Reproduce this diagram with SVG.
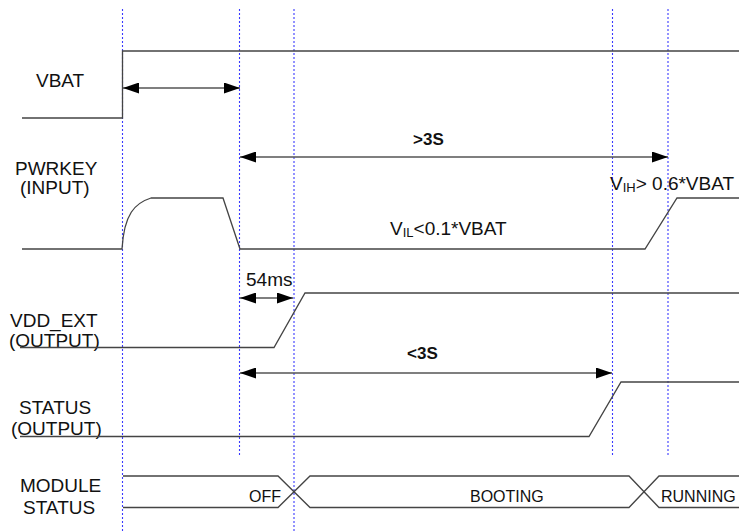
<svg xmlns="http://www.w3.org/2000/svg" width="739" height="532" viewBox="0 0 739 532">
<style>
.lbl{font-family:"Liberation Sans",Arial,sans-serif;font-size:19px;fill:#111}
.st{font-family:"Liberation Sans",Arial,sans-serif;font-size:16px;fill:#111}
.bd{font-family:"Liberation Sans",Arial,sans-serif;font-size:17px;font-weight:bold;fill:#111}
.wave{fill:none;stroke:#444;stroke-width:1.3}
.grid{fill:none;stroke:#3a3aff;stroke-width:1.1;stroke-dasharray:2,2}
.arr{fill:none;stroke:#555;stroke-width:1.6;marker-start:url(#ah);marker-end:url(#ah)}
</style>
<defs>
<marker id="ah" markerUnits="userSpaceOnUse" markerWidth="16" markerHeight="11" refX="16" refY="5.5" orient="auto-start-reverse">
<path d="M0,0 L16,5.5 L0,11 z" fill="#000"/>
</marker>
</defs>
<rect width="739" height="532" fill="#fff"/>
<g id="gridlines">
<line class="grid" x1="122.5" y1="9" x2="122.5" y2="532"/>
<line class="grid" x1="239.5" y1="9" x2="239.5" y2="457"/>
<line class="grid" x1="294" y1="9" x2="294" y2="532"/>
<line class="grid" x1="612.5" y1="9" x2="612.5" y2="456"/>
<line class="grid" x1="668" y1="9" x2="668" y2="456"/>
</g>
<g id="vbat">
<text class="lbl" x="36" y="87">VBAT</text>
<path class="wave" d="M22,118 H122.5 V51 H739"/>
</g>
<g id="pwrkey">
<text class="lbl" x="15" y="175">PWRKEY</text>
<text class="lbl" x="20" y="194">(INPUT)</text>
<path class="wave" d="M22,249 H122 C124,214 135,203 151,198 H223 L240,249 H645 L677,198 H739"/>
<text class="lbl" x="390" y="235">V<tspan font-size="13" dy="2">IL</tspan><tspan dy="-2">&lt;0.1*VBAT</tspan></text>
<text class="lbl" x="610" y="190">V<tspan font-size="13" dy="2">IH</tspan><tspan dy="-2">&gt; 0.6*VBAT</tspan></text>
</g>
<g id="vdd_ext">
<text class="lbl" x="10" y="327">VDD_EXT</text>
<text class="lbl" x="9" y="347">(OUTPUT)</text>
<path class="wave" d="M20,347.5 H274 L305,293 H739"/>
</g>
<g id="status">
<text class="lbl" x="19" y="414">STATUS</text>
<text class="lbl" x="11" y="435">(OUTPUT)</text>
<path class="wave" d="M20,436.5 H589 L621,382 H739"/>
</g>
<g id="module_status">
<text class="lbl" x="20" y="492">MODULE</text>
<text class="lbl" x="23" y="514">STATUS</text>
<path class="wave" d="M123,476 H278 L310,507.5 H629 L659,476 H739"/>
<path class="wave" d="M123,507.5 H278 L310,476 H629 L659,507.5 H739"/>
<text class="st" x="249" y="502">OFF</text>
<text class="st" x="470" y="502">BOOTING</text>
<text class="st" x="661" y="502">RUNNING</text>
</g>
<g id="connectors">
<line class="arr" x1="123" y1="88" x2="240" y2="88"/>
<line class="arr" x1="240" y1="157" x2="668" y2="157"/>
<line class="arr" x1="240" y1="298" x2="293" y2="298"/>
<line class="arr" x1="240" y1="373" x2="612" y2="373"/>
<text class="bd" x="413" y="145">&gt;3S</text>
<text class="lbl" x="246" y="286">54ms</text>
<text class="bd" x="407" y="359">&lt;3S</text>
</g>
</svg>
